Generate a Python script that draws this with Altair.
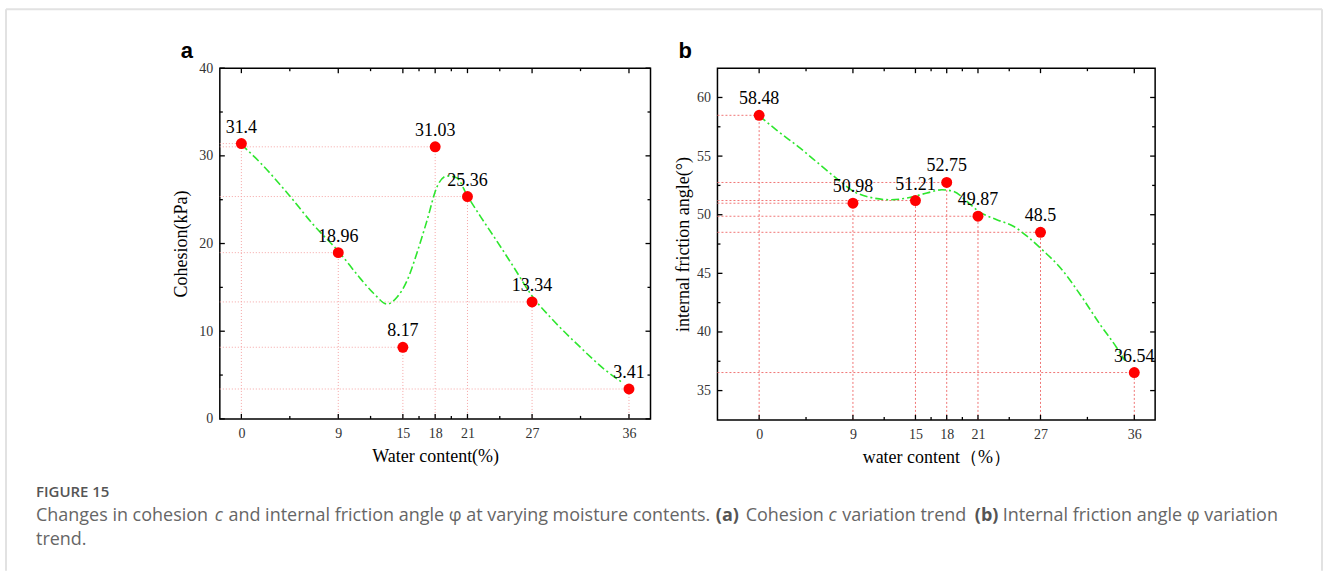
import altair as alt
import pandas as pd

# ---------------- data ----------------
water = [0, 9, 15, 18, 21, 27, 36]
cohesion = [31.4, 18.96, 8.17, 31.03, 25.36, 13.34, 3.41]
friction = [58.48, 50.98, 51.21, 52.75, 49.87, 48.5, 36.54]
cohesion_labels = ["31.4", "18.96", "8.17", "31.03", "25.36", "13.34", "3.41"]
friction_labels = ["58.48", "50.98", "51.21", "52.75", "49.87", "48.5", "36.54"]

# fitted trend curves
curve_a_x = [0, 1.77, 4.24, 6.72, 9.05, 11.06, 12.3, 13.54, 14.47, 15.4, 16.3, 17.26,
             18.18, 19.1, 20.0, 21.0, 22.2, 23.45, 25.3, 26.95, 29.0, 31.5, 33.7, 35.4]
curve_a_y = [31.3, 29.2, 25.8, 22.1, 19.06, 16.0, 14.3, 13.1, 13.9, 15.8, 18.9, 22.7,
             26.5, 27.7, 27.5, 25.4, 23.1, 20.8, 17.3, 14.1, 11.2, 8.15, 5.67, 4.13]
curve_b_x = [0, 1.7, 3.94, 5.86, 7.78, 9.06, 10.66, 12.58, 14.18, 16.1, 17.54, 18.66,
             19.94, 21.06, 22.8, 24.4, 25.7, 27.3, 28.9, 30.8, 32.7, 34.3, 35.1]
curve_b_y = [58.44, 57.2, 55.67, 54.25, 52.84, 51.99, 51.48, 51.28, 51.42, 51.85, 52.13, 51.99,
             51.14, 50.29, 49.58, 49.02, 48.17, 46.9, 45.48, 43.2, 40.66, 38.68, 37.55]

x_major = [0, 9, 15, 18, 21, 27, 36]
x_minor = [4.5, 12, 16.5, 19.5, 24, 31.5]
a_y_major = [0, 10, 20, 30, 40]
a_y_minor = [5, 15, 25, 35]
b_y_major = [35, 40, 45, 50, 55, 60]
b_y_minor = [37.5, 42.5, 47.5, 52.5, 57.5]

# caption pieces: (text, weight, style, approximate advance width in px)
caption_line1 = [
    ("Changes in cohesion", "normal", "normal", 174),
    ("c", "normal", "italic", 9),
    ("and internal friction angle \u03c6 at varying moisture contents.", "normal", "normal", 483),
    ("(a)", "bold", "normal", 25),
    ("Cohesion", "normal", "normal", 78),
    ("c", "normal", "italic", 9),
    ("variation trend", "normal", "normal", 128),
    ("(b)", "bold", "normal", 23),
    ("Internal friction angle \u03c6 variation", "normal", "normal", 275),
]

SERIF = "Liberation Serif"
SANS = "Open Sans"

one = pd.DataFrame({"k": [0]})


def panel(W, H, xdom, ydom, yvals, ylabels, cx, cy, ymaj, ymin, xtitle, ytitle,
          drop_color, drop_dash, ylab_pad, ytitle_pad, letter, extra=None):
    xs = alt.Scale(domain=xdom, nice=False, zero=False)
    ys = alt.Scale(domain=ydom, nice=False, zero=False)
    xax = alt.Axis(values=x_major, title=xtitle, labelPadding=8, titlePadding=7,
                   labelFlush=False)
    yax = alt.Axis(values=ymaj, title=ytitle, labelPadding=ylab_pad,
                   titlePadding=ytitle_pad, labelFlush=False)

    def X(f):
        return alt.X(f, type="quantitative", scale=xs, axis=xax)

    def Y(f):
        return alt.Y(f, type="quantitative", scale=ys, axis=yax)

    pts = pd.DataFrame({"x": water, "y": yvals, "label": ylabels,
                        "x0": [xdom[0]] * len(water), "y0": [ydom[0]] * len(water)})
    cur = pd.DataFrame({"x": cx, "y": cy})

    hdrop = alt.Chart(pts).mark_rule(color=drop_color, strokeDash=drop_dash, strokeWidth=1).encode(
        x=X("x0"), x2="x", y=Y("y"))
    vdrop = alt.Chart(pts).mark_rule(color=drop_color, strokeDash=drop_dash, strokeWidth=1).encode(
        x=X("x"), y=Y("y0"), y2="y")
    line = alt.Chart(cur).mark_line(interpolate="monotone", color="#2ee62e",
                                    strokeDash=[8, 3, 2, 3], strokeWidth=1.6).encode(
        x=X("x"), y=Y("y"))
    dots = alt.Chart(pts).mark_circle(size=120, color="#ff0000", opacity=1).encode(
        x=X("x"), y=Y("y"))
    labs = alt.Chart(pts).mark_text(font=SERIF, fontSize=18, baseline="bottom", dy=-7,
                                    color="black").encode(x=X("x"), y=Y("y"), text="label:N")

    xmaj = pd.DataFrame({"x": x_major})
    xmin = pd.DataFrame({"x": x_minor})
    ymajd = pd.DataFrame({"y": ymaj})
    ymind = pd.DataFrame({"y": ymin})
    tk = dict(color="black", strokeWidth=1.3)
    ticks = [
        alt.Chart(xmaj).mark_rule(**tk).encode(x=X("x"), y=alt.value(H), y2=alt.value(H - 5)),
        alt.Chart(xmaj).mark_rule(**tk).encode(x=X("x"), y=alt.value(0), y2=alt.value(5)),
        alt.Chart(xmin).mark_rule(**tk).encode(x=X("x"), y=alt.value(H), y2=alt.value(H - 3)),
        alt.Chart(xmin).mark_rule(**tk).encode(x=X("x"), y=alt.value(0), y2=alt.value(3)),
        alt.Chart(ymajd).mark_rule(**tk).encode(y=Y("y"), x=alt.value(0), x2=alt.value(5)),
        alt.Chart(ymajd).mark_rule(**tk).encode(y=Y("y"), x=alt.value(W), x2=alt.value(W - 5)),
        alt.Chart(ymind).mark_rule(**tk).encode(y=Y("y"), x=alt.value(0), x2=alt.value(3)),
        alt.Chart(ymind).mark_rule(**tk).encode(y=Y("y"), x=alt.value(W), x2=alt.value(W - 3)),
    ]
    let = alt.Chart(one).mark_text(text=letter, font="Liberation Sans", fontWeight="bold",
                                   fontSize=22, align="left", baseline="alphabetic",
                                   color="black").encode(x=alt.value(-39), y=alt.value(-10))
    layers = [hdrop, vdrop, line, dots, labs] + ticks + [let] + (extra or [])
    return alt.layer(*layers).properties(width=W, height=H)


# ---------------- caption and frame (positioned relative to panel a origin) -------------
OX, OY = 219, 67
CAP_SIZE = 18
SPACE = 4.8


def txt(s, x, base, size=CAP_SIZE, weight="normal", style="normal", color="#666666"):
    return alt.Chart(one).mark_text(text=s, font=SANS, fontSize=size, fontWeight=weight,
                                    fontStyle=style, align="left", baseline="alphabetic",
                                    color=color).encode(x=alt.value(x - OX), y=alt.value(base - OY))


X0 = 35
L1 = 520
caption = [txt("FIGURE 15", X0, 496, size=15, weight=600, color="#555555")]
cx_pos = X0
for s, w, st, adv in caption_line1:
    col = "#555555" if w == "bold" else "#666666"
    caption.append(txt(s, cx_pos, L1, weight=w, style=st, color=col))
    cx_pos += adv + SPACE
caption.append(txt("trend.", X0, 544))

fr = dict(color="#e2e2e2", strokeWidth=2)
frame = [
    alt.Chart(one).mark_rule(**fr).encode(x=alt.value(5 - OX), x2=alt.value(5 - OX),
                                          y=alt.value(8 - OY), y2=alt.value(570 - OY)),
    alt.Chart(one).mark_rule(**fr).encode(x=alt.value(1322 - OX), x2=alt.value(1322 - OX),
                                          y=alt.value(8 - OY), y2=alt.value(570 - OY)),
    alt.Chart(one).mark_rule(**fr).encode(x=alt.value(5 - OX), x2=alt.value(1322 - OX),
                                          y=alt.value(8 - OY), y2=alt.value(8 - OY)),
]

pa = panel(431, 351, [-2, 38], [0, 40], cohesion, cohesion_labels, curve_a_x, curve_a_y,
           a_y_major, a_y_minor, "Water content(%)", "Cohesion(kPa)",
           "#f5a5a5", [1, 2], 7, 8, "a", caption + frame)
pb = panel(438, 352, [-4, 38], [32.5, 62.5], friction, friction_labels, curve_b_x, curve_b_y,
           b_y_major, b_y_minor, "water content\uff08%\uff09", "internal friction angle(\u00b0)",
           "#f07575", [2, 2], 7, 4, "b")

chart = alt.hconcat(pa, pb, spacing=67, bounds="flush").properties(
    padding={"left": 4, "top": 7, "right": 4, "bottom": 0},
    background="white",
).configure_axis(
    grid=False, domain=False, ticks=False,
    labelFont=SERIF, labelFontSize=14, labelColor="#333333",
    titleFont=SERIF, titleFontSize=18, titleFontWeight="normal", titleColor="black",
).configure_view(stroke="black", strokeWidth=1.5)

chart.save("out.html", embed_options={"renderer": "svg", "actions": False})
